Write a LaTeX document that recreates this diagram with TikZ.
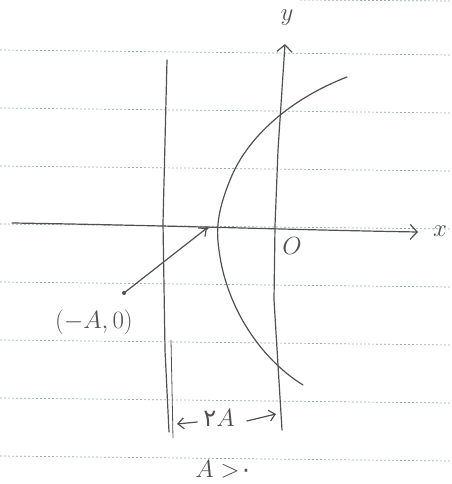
\documentclass[tikz,border=0pt]{standalone}
\usepackage{fontspec}
\newfontfamily\perfont{DejaVu Sans}
\usetikzlibrary{arrows.meta}
\definecolor{pen}{HTML}{505050}
\definecolor{rule}{HTML}{9AA8A8}
\tikzset{
  ink/.style={draw=pen, line width=1.2pt, line cap=round, line join=round},
  paperline/.style={draw=rule, line width=0.7pt, dash pattern=on 2pt off 2pt},
  vtip/.style={-{Straight Barb[length=7pt,width=15pt]}},
  stip/.style={-{Straight Barb[length=6pt,width=11pt]}},
  lbl/.style={text=pen, inner sep=0pt, font=\fontsize{24}{28}\selectfont},
}
\begin{document}
\begin{tikzpicture}[x=1pt,y=-1pt]
\useasboundingbox (0,0) rectangle (451,484);
% lined paper
\foreach \yy in {50,108,166,224,282,340,398,456}
  \draw[paperline] (0,\yy) -- (451,\yy+5);
\draw[paperline] (300,0) -- (451,1);
% points
\coordinate (xs) at (12,223);
\coordinate (xe) at (418,232);
\coordinate (ys) at (282,430);
\coordinate (ye) at (285,44);
\coordinate (P) at (207,228);
\coordinate (Q) at (124,293);
% x axis
\draw[ink, vtip] (xs) .. controls (150,225) and (300,230) .. (xe);
% y axis
\draw[ink, vtip] (ys) -- (274,300) -- (275,226) -- (278,150) -- (ye);
% left vertical line
\draw[ink] (169,432) -- (165,350) -- (163,223) -- (167,60);
\draw[ink, line width=0.8pt] (171,340) -- (173,438);
% curve
\draw[ink] (347,77) .. controls (300,95) and (250,130) .. (230,180)
  .. controls (220,205) and (215,225) .. (219,250)
  .. controls (225,300) and (255,355) .. (303,385);
% labels
\node[lbl] (ylab) at (287,18) {$y$};
\node[lbl] (xlab) at (440,231) {$x$};
\node[lbl] (olab) at (292,246) {$O$};
\node[lbl, font=\fontsize{27}{30}\selectfont] (plab) at (94,322) {$(-A,0)$};
\fill[pen] (Q) circle (2pt);
\fill[pen] (P) circle (1.8pt);
\draw[ink, stip] (Q) -- (P);
% 2A dimension
\node[lbl] (twoA) at (219,418) {{\perfont ۲}$A$};
\coordinate (dl) at (177,424);
\coordinate (dr) at (276,414);
\draw[ink, stip] (twoA.west) ++(-6,4) -- (dl);
\draw[ink, stip] (twoA.east) ++(12,3) -- (dr);
\node[lbl] (cond) at (224,469) {$A>${\perfont ۰}};
\end{tikzpicture}
\end{document}
